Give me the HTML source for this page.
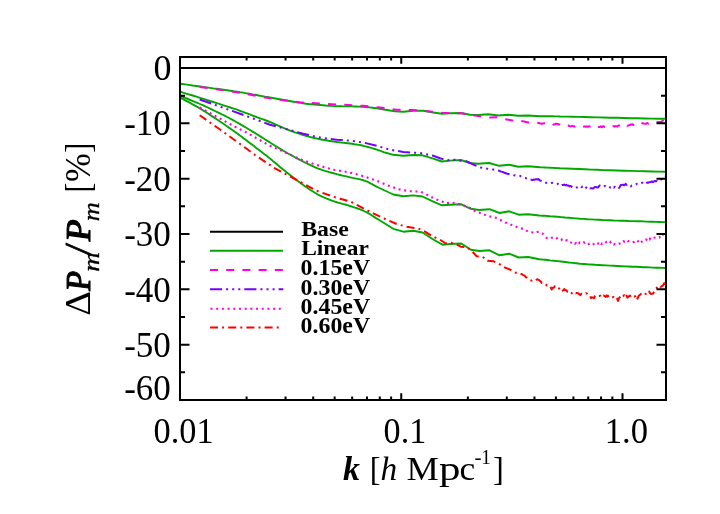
<!DOCTYPE html>
<html><head><meta charset="utf-8"><title>plot</title>
<style>
html,body{margin:0;padding:0;background:#fff;}
body{width:720px;height:514px;overflow:hidden;}
svg{display:block;will-change:transform;}
text{font-family:"Liberation Serif",serif;fill:#000;}
</style></head><body>
<svg width="720" height="514" viewBox="0 0 720 514">
<rect x="0" y="0" width="720" height="514" fill="#fff"/>
<clipPath id="c"><rect x="180.0" y="57.0" width="487.0" height="343.0"/></clipPath>
<g clip-path="url(#c)" fill="none" stroke-linejoin="round">
<line x1="180.0" y1="68" x2="666.0" y2="68" stroke="#000" stroke-width="2"/>
<polyline points="180.0,83.7 182.2,84.0 185.2,84.4 188.8,84.9 192.6,85.5 196.4,86.0 200.0,86.5 203.3,87.0 206.7,87.4 210.0,87.9 213.3,88.4 216.7,88.8 220.0,89.3 223.4,89.8 226.9,90.3 230.3,90.8 233.7,91.3 237.0,91.7 240.0,92.2 242.8,92.6 245.4,93.1 247.8,93.5 250.2,93.9 252.6,94.4 255.0,94.8 257.5,95.2 259.9,95.7 262.4,96.1 264.9,96.6 267.4,97.0 270.0,97.5 272.7,98.0 275.4,98.5 278.2,99.0 281.1,99.5 283.9,100.0 286.7,100.5 289.5,101.0 292.2,101.5 295.0,102.0 297.8,102.5 300.5,102.9 303.3,103.3 306.1,103.7 308.9,104.0 311.6,104.2 314.4,104.5 317.2,104.8 320.0,105.0 322.8,105.2 325.7,105.5 328.6,105.7 331.4,105.9 334.1,106.1 336.7,106.2 339.1,106.3 341.4,106.3 343.6,106.4 345.7,106.4 347.8,106.4 350.0,106.4 352.2,106.4 354.4,106.5 356.6,106.5 358.9,106.6 361.1,106.7 363.3,106.8 365.5,107.0 367.8,107.2 370.0,107.4 372.2,107.7 374.5,108.0 376.7,108.3 390.0,110.5 395.0,111.2 403.3,111.7 413.3,110.8 423.3,110.8 433.3,112.5 441.7,113.8 450.0,113.3 460.8,113.0 470.0,114.7 478.3,115.0 488.3,114.2 498.3,115.5 508.3,114.8 518.3,115.8 528.3,115.5 540.0,116.2 542.5,116.3 545.0,116.3 547.5,116.3 550.0,116.3 552.5,116.3 555.0,116.4 557.5,116.4 560.0,116.5 566.2,116.6 572.5,116.7 578.8,116.9 585.0,117.0 591.2,117.2 597.5,117.4 603.8,117.5 610.0,117.7 617.0,117.8 624.0,118.0 631.0,118.2 638.0,118.3 645.0,118.5 652.0,118.6 659.0,118.7 666.0,118.8" stroke="#00a800" stroke-width="1.9"/>
<polyline points="180.0,91.7 182.2,92.4 185.2,93.3 188.8,94.3 192.6,95.5 196.4,96.7 200.0,97.8 203.3,98.8 206.7,99.9 210.0,101.0 213.3,102.0 216.7,103.1 220.0,104.2 223.4,105.3 226.9,106.4 230.3,107.5 233.7,108.7 237.0,109.7 240.0,110.8 242.8,111.8 245.4,112.8 247.8,113.7 250.2,114.6 252.6,115.6 255.0,116.5 257.5,117.4 259.9,118.3 262.4,119.2 264.9,120.0 267.4,121.0 270.0,122.0 272.7,123.1 275.4,124.3 278.2,125.6 281.1,126.8 283.9,128.1 286.7,129.2 289.5,130.3 292.2,131.3 295.0,132.3 297.8,133.2 300.5,134.1 303.3,135.0 306.1,135.8 308.9,136.6 311.6,137.3 314.4,138.0 317.2,138.6 320.0,139.2 322.8,139.8 325.7,140.3 328.6,140.8 331.4,141.2 334.1,141.6 336.7,142.0 339.1,142.3 341.4,142.6 343.6,142.8 345.7,143.0 347.8,143.2 350.0,143.5 352.2,143.8 354.4,144.2 356.6,144.5 358.9,144.9 361.1,145.3 363.3,145.8 365.6,146.4 367.9,147.0 370.3,147.7 372.6,148.3 374.8,149.0 376.7,149.6 378.4,150.1 379.8,150.7 381.2,151.1 382.4,151.6 383.7,152.1 385.0,152.5 393.3,154.8 403.3,155.8 413.3,155.0 422.5,155.3 433.3,158.6 441.7,161.5 450.0,160.6 460.8,160.0 470.0,163.0 477.5,163.8 489.2,163.0 499.2,165.8 509.2,164.7 518.3,166.7 528.3,166.2 540.0,167.3 542.5,167.4 545.0,167.5 547.5,167.6 550.0,167.7 552.5,167.9 555.0,168.0 557.5,168.1 560.0,168.3 566.2,168.5 572.5,168.7 578.8,169.0 585.0,169.3 591.2,169.6 597.5,169.8 603.8,170.1 610.0,170.3 617.0,170.5 624.0,170.7 631.0,170.9 638.0,171.1 645.0,171.3 652.0,171.5 659.0,171.6 666.0,171.7" stroke="#00a800" stroke-width="1.9"/>
<polyline points="180.0,95.8 182.2,96.7 185.4,98.0 189.1,99.5 193.0,101.1 196.7,102.6 200.0,104.0 202.8,105.2 205.4,106.4 207.8,107.5 210.2,108.7 212.6,109.8 215.0,111.0 217.4,112.2 219.8,113.3 222.2,114.5 224.6,115.7 227.2,117.0 230.0,118.5 233.0,120.2 236.3,122.0 239.7,123.9 243.1,125.9 246.6,128.0 250.0,130.0 253.4,132.1 256.9,134.2 260.3,136.4 263.7,138.5 267.0,140.6 270.0,142.5 272.7,144.2 275.2,145.8 277.5,147.2 279.8,148.6 282.3,150.1 285.0,151.7 288.1,153.5 291.5,155.3 295.0,157.3 298.5,159.1 301.9,160.9 305.0,162.5 307.8,163.9 310.4,165.1 312.8,166.2 315.2,167.3 317.6,168.3 320.0,169.2 322.5,170.1 325.0,170.9 327.5,171.6 330.0,172.3 332.5,173.0 335.0,173.7 337.5,174.4 340.0,175.0 342.5,175.6 345.0,176.1 347.5,176.7 350.0,177.3 352.5,177.9 355.1,178.4 357.6,178.9 360.1,179.4 362.6,180.0 365.0,180.8 367.3,181.7 369.5,182.8 371.6,183.9 373.8,185.1 376.0,186.3 378.3,187.5 393.3,194.5 403.3,196.3 413.3,195.4 422.5,196.5 433.3,201.7 442.0,205.3 450.0,204.7 461.3,204.3 470.8,208.8 479.2,210.0 489.5,209.2 499.5,213.0 509.2,211.3 518.7,214.7 528.3,214.2 539.2,215.5 540.6,215.6 541.9,215.7 543.2,215.8 544.6,215.8 546.0,215.9 547.3,216.0 548.6,216.1 550.0,216.3 553.8,216.5 557.5,216.8 561.2,217.1 565.0,217.5 568.8,217.8 572.5,218.1 576.2,218.4 580.0,218.7 583.8,218.9 587.5,219.2 591.2,219.4 595.0,219.6 598.8,219.8 602.5,220.0 606.2,220.1 610.0,220.3 613.8,220.5 617.5,220.6 621.2,220.7 625.0,220.8 628.8,221.0 632.5,221.1 636.2,221.2 640.0,221.3 643.2,221.4 646.5,221.6 649.8,221.7 653.0,221.8 656.2,221.9 659.5,222.0 662.8,222.1 666.0,222.2" stroke="#00a800" stroke-width="1.9"/>
<polyline points="180.0,97.5 182.2,98.7 185.2,100.3 188.8,102.2 192.6,104.3 196.4,106.4 200.0,108.5 203.4,110.6 206.9,112.8 210.4,115.1 213.9,117.4 217.1,119.5 220.0,121.5 222.6,123.2 224.9,124.8 226.9,126.2 228.9,127.6 230.9,129.0 233.0,130.5 235.2,132.0 237.3,133.6 239.5,135.2 241.7,136.8 243.8,138.4 246.0,140.0 248.2,141.7 250.4,143.4 252.6,145.1 254.8,146.8 256.9,148.4 259.0,150.0 261.0,151.5 262.9,153.0 264.8,154.4 266.6,155.8 268.3,157.2 270.0,158.5 271.5,159.7 272.8,160.9 274.1,161.9 275.4,163.0 276.8,164.2 278.3,165.5 280.0,166.9 281.8,168.4 283.7,170.0 285.7,171.6 287.8,173.3 290.0,175.0 292.3,176.8 294.8,178.7 297.3,180.7 299.9,182.6 302.5,184.5 305.0,186.3 307.5,188.0 310.0,189.7 312.5,191.3 315.0,192.8 317.5,194.3 320.0,195.6 322.5,196.8 325.0,197.9 327.5,199.0 330.0,199.9 332.5,200.8 335.0,201.7 337.5,202.5 340.0,203.2 342.5,203.9 345.0,204.5 347.5,205.2 350.0,206.0 352.5,206.8 355.1,207.7 357.6,208.5 360.1,209.4 362.6,210.4 365.0,211.5 367.3,212.7 369.5,213.9 371.6,215.3 373.8,216.6 376.0,218.1 378.3,219.5 393.3,228.8 403.3,231.7 413.3,230.8 422.5,232.5 433.3,239.5 442.5,244.7 450.0,244.0 461.3,243.5 470.8,249.7 479.5,251.0 489.5,250.3 499.5,255.3 509.2,253.7 518.7,257.5 528.3,257.0 539.2,259.2 540.6,259.4 541.9,259.5 543.2,259.6 544.6,259.7 546.0,259.8 547.3,260.0 548.6,260.2 550.0,260.4 553.8,260.7 557.5,261.1 561.2,261.5 565.0,262.0 568.8,262.5 572.5,262.9 576.2,263.3 580.0,263.7 583.8,264.0 587.5,264.3 591.2,264.5 595.0,264.8 598.8,265.0 602.5,265.2 606.2,265.4 610.0,265.6 613.8,265.8 617.5,266.0 621.2,266.2 625.0,266.4 628.8,266.5 632.5,266.7 636.2,266.8 640.0,267.0 643.2,267.2 646.5,267.3 649.8,267.4 653.0,267.6 656.2,267.7 659.5,267.8 662.8,267.9 666.0,268.0" stroke="#00a800" stroke-width="1.9"/>
<polyline points="199.7,87.0 220.0,89.8 240.0,92.8 270.0,98.3 283.3,100.3 300.0,102.2 315.0,103.3 331.7,104.2 348.3,105.0 363.3,105.8 380.0,107.5 396.7,109.7 413.3,110.0 428.3,111.2 443.3,113.0 450.0,113.0 461.7,113.3 473.3,115.3 480.0,116.3 490.0,117.5 496.7,117.2 505.0,119.2 512.5,120.5 513.5,120.5 514.6,120.6 515.6,120.6 516.6,120.7 517.7,120.7 518.7,120.7 519.8,120.8 520.8,120.8 521.7,121.0 522.7,121.2 523.6,121.4 524.5,121.6 525.5,121.9 526.4,122.1 527.4,122.2 528.3,122.6 529.3,122.6 530.4,122.5 531.5,122.5 532.5,122.4 533.5,122.4 534.6,122.5 535.7,122.4 536.7,122.4 537.7,122.7 538.7,122.9 539.7,123.3 540.7,123.5 541.7,123.9 542.8,123.5 543.9,123.3 545.0,123.0 546.0,123.4 546.9,123.6 547.9,123.9 548.8,124.5 549.8,124.8 550.7,125.1 551.7,125.4 552.7,124.9 553.7,124.5 554.7,124.2 555.7,123.8 556.7,123.8 557.8,124.0 558.9,124.6 560.0,124.6 561.0,125.1 562.0,125.2 562.9,124.8 563.9,125.1 564.9,125.6 565.9,125.5 566.9,126.0 567.9,125.7 568.8,125.6 569.8,126.2 570.8,126.4 571.8,126.1 572.8,126.0 573.8,126.2 574.8,126.7 575.8,126.6 576.8,126.1 577.8,126.2 578.8,126.1 579.8,126.1 580.8,126.8 581.8,126.3 582.8,126.7 583.8,126.6 584.8,126.4 585.8,126.9 586.8,126.4 587.8,126.8 588.8,126.3 589.8,126.6 590.8,126.4 591.8,126.5 592.8,127.2 593.8,127.0 594.8,126.5 595.8,127.1 596.8,126.4 597.8,126.6 598.8,127.1 599.8,126.9 600.8,126.3 601.8,127.2 602.8,126.3 603.7,126.3 604.7,126.9 605.7,126.3 606.7,126.3 607.7,126.0 608.6,126.0 609.6,126.5 610.6,126.1 611.6,126.4 612.6,126.2 613.5,126.2 614.5,126.7 615.5,126.2 616.5,126.2 617.5,126.4 618.4,125.6 619.4,125.5 620.4,126.2 621.4,126.0 622.4,125.3 623.3,125.2 624.3,125.7 625.3,125.8 626.3,124.9 627.2,125.7 628.2,125.5 629.2,125.1 630.2,124.8 631.2,124.4 632.2,124.2 633.2,125.1 634.2,124.2 635.2,124.6 636.2,124.0 637.2,124.6 638.2,124.2 639.2,123.8 640.2,123.5 641.2,124.0 642.2,123.2 643.2,123.3 644.2,123.6 645.3,123.9 646.3,123.5 647.3,123.1 648.3,123.7 649.4,122.9 650.4,122.6 651.4,122.8 652.4,122.9 653.5,122.5 654.5,122.5 655.5,122.7 656.6,122.7 657.8,122.0 658.9,122.0 660.0,122.4 661.0,122.0 662.0,121.2 663.0,120.7 664.0,120.1 665.0,118.9 666.0,118.5" stroke="#ff00dc" stroke-width="2.0" stroke-dasharray="8 8.2"/>
<polyline points="199.7,99.5 240.0,113.7 270.0,124.7 286.7,129.2 303.3,133.8 320.0,137.5 336.7,139.7 350.0,140.6 363.3,142.5 376.7,145.8 390.0,149.7 403.3,152.0 420.0,153.0 433.3,155.8 440.0,158.3 446.7,160.3 455.0,159.7 460.8,160.8 466.7,161.3 475.0,165.3 480.8,167.5 487.5,168.8 493.3,169.5 499.2,170.8 500.2,171.2 501.3,171.6 502.3,171.9 503.4,172.3 504.4,172.7 505.4,173.0 506.5,173.5 507.5,173.8 508.5,174.0 509.4,174.2 510.4,174.5 511.3,174.6 512.3,174.9 513.2,175.0 514.2,175.4 515.2,175.3 516.1,175.6 517.1,175.4 518.1,175.7 519.0,175.7 520.0,175.8 521.0,176.3 521.9,176.4 522.9,176.9 523.9,177.6 524.8,177.9 525.8,178.1 526.8,178.8 527.8,179.1 528.8,178.9 529.7,179.4 530.7,179.5 531.7,179.9 532.6,180.0 533.6,179.6 534.5,179.8 535.5,179.3 536.4,179.2 537.4,179.5 538.3,179.1 539.1,179.8 540.0,180.6 541.0,180.8 542.0,181.1 543.0,181.2 544.0,182.0 545.0,182.6 546.0,182.8 547.0,182.7 548.0,182.6 549.0,182.7 550.0,183.2 551.0,183.3 551.9,182.8 552.9,183.0 553.8,183.3 554.8,183.5 555.7,183.9 556.7,183.7 557.7,183.7 558.8,185.1 559.8,185.2 560.8,185.8 561.9,185.1 563.1,185.0 564.2,184.6 565.2,185.3 566.2,184.8 567.3,185.6 568.3,185.4 569.3,186.4 570.3,185.9 571.3,186.5 572.3,187.0 573.3,187.7 574.3,187.0 575.3,187.6 576.3,187.4 577.3,187.6 578.3,188.0 579.3,188.4 580.3,187.5 581.2,188.0 582.2,186.6 583.2,187.6 584.2,186.5 585.2,186.4 586.1,187.5 587.1,188.0 588.1,186.8 589.0,187.4 590.0,188.4 591.1,188.1 592.2,188.4 593.3,188.4 594.5,187.2 595.8,186.9 596.8,187.5 597.8,187.4 598.8,186.5 599.7,185.5 600.7,186.0 601.7,186.7 602.7,186.9 603.8,186.6 604.8,185.9 605.9,186.5 606.9,186.5 607.9,186.8 609.0,186.2 610.0,187.5 611.0,187.5 611.9,186.3 612.9,186.6 613.9,187.7 614.8,186.7 615.8,188.0 617.0,187.8 618.3,188.7 619.5,187.3 620.8,185.0 621.8,184.9 622.8,184.6 623.8,185.2 624.7,185.0 625.7,183.8 626.7,184.9 627.7,184.4 628.8,184.4 629.8,185.1 630.8,186.4 631.8,185.3 632.9,185.1 634.0,185.3 635.0,185.0 636.0,184.5 637.0,183.7 638.0,183.8 639.0,184.2 640.0,183.8 641.0,183.3 642.0,182.8 643.0,182.8 644.0,183.3 645.0,182.9 646.0,181.7 646.9,182.7 647.9,182.8 648.9,182.3 649.8,182.3 650.8,182.0 651.8,181.5 652.9,182.0 654.0,181.4 655.0,181.0 656.0,181.2 657.1,180.9 658.2,181.8 659.2,181.1 660.2,180.1 661.2,179.5 662.3,177.9 663.3,177.9 664.2,177.7 665.1,176.6 666.0,176.3" stroke="#7800ff" stroke-width="2.0" stroke-dasharray="12.1 4 2 4.1 2 4.1 2 4"/>
<polyline points="199.7,107.5 235.0,126.7 245.0,131.7 270.0,145.8 280.0,150.0 300.0,159.2 316.7,165.0 333.3,169.7 344.2,171.5 355.0,173.7 365.0,176.7 376.7,180.8 387.5,185.3 398.3,189.2 409.2,191.2 420.8,191.7 425.8,194.2 435.8,199.2 441.7,201.3 445.8,203.3 451.7,202.5 456.7,203.5 462.0,204.8 467.5,206.8 472.5,209.3 476.7,212.5 482.5,213.3 487.5,216.3 492.5,216.7 497.5,218.3 498.5,218.9 499.5,219.5 500.5,220.0 501.5,220.6 502.5,221.2 503.4,221.6 504.3,222.0 505.2,222.5 506.2,222.8 507.1,223.3 508.0,223.6 509.1,224.0 510.1,224.3 511.2,224.7 512.2,225.0 513.3,225.2 514.3,225.7 515.3,226.1 516.3,226.8 517.3,227.2 518.3,227.6 519.3,227.9 520.3,228.1 521.3,228.4 522.3,228.6 523.3,228.6 524.3,229.5 525.3,229.9 526.3,230.6 527.3,231.1 528.3,231.7 529.3,231.8 530.3,232.1 531.3,232.2 532.3,232.3 533.3,233.0 534.3,232.8 535.3,232.7 536.3,232.3 537.3,232.0 538.3,231.9 539.3,231.9 540.3,233.0 541.3,233.3 542.3,233.6 543.3,234.2 544.4,235.7 545.6,236.6 546.7,238.0 547.7,238.2 548.8,238.0 549.8,237.8 550.8,238.3 551.8,237.7 552.9,237.4 554.0,237.0 555.0,236.9 556.0,237.2 557.1,238.6 558.2,239.6 559.2,239.6 560.2,239.9 561.2,240.2 562.3,238.9 563.3,239.0 564.3,240.2 565.3,240.5 566.3,240.5 567.3,240.0 568.3,240.7 569.3,241.8 570.3,242.3 571.3,242.6 572.3,242.1 573.3,243.6 574.2,243.0 575.1,243.7 576.1,242.9 577.0,244.5 577.9,243.6 578.8,243.6 579.8,242.4 580.7,242.9 581.6,242.6 582.5,242.4 583.5,242.0 584.6,242.8 585.7,242.1 586.7,242.1 587.7,242.4 588.7,244.0 589.7,243.4 590.7,244.2 591.7,244.4 592.8,244.8 593.9,243.9 595.0,243.1 596.0,242.3 597.1,243.5 598.2,243.6 599.2,243.3 600.2,243.1 601.1,245.3 602.0,243.4 603.0,243.8 604.1,243.2 605.2,243.4 606.4,241.8 607.5,242.1 608.6,242.1 609.8,243.3 610.9,241.7 612.0,242.6 612.9,243.2 613.9,244.5 614.8,243.8 615.8,243.9 616.7,244.6 618.0,243.9 619.2,243.5 620.3,243.7 621.4,243.7 622.5,242.5 623.5,241.2 624.6,241.8 625.7,241.9 626.7,240.3 627.7,241.3 628.7,241.1 629.7,241.1 630.6,241.6 631.5,241.7 632.4,242.3 633.3,242.0 634.3,242.2 635.3,241.0 636.3,241.9 637.2,242.0 638.1,241.2 639.1,243.4 640.0,242.6 640.9,242.5 641.7,241.8 642.8,240.9 643.9,240.4 645.0,240.4 646.1,239.4 647.2,240.6 648.3,238.6 649.5,239.4 650.8,237.2 651.9,237.7 653.1,238.2 654.2,237.8 655.2,237.5 656.2,237.4 657.3,237.1 658.3,237.5 659.4,237.6 660.6,235.4 661.7,236.4 662.8,234.5 663.9,235.1 664.9,233.1 666.0,232.5" stroke="#ff00dc" stroke-width="2.1" stroke-dasharray="2 3.69"/>
<polyline points="199.7,115.3 220.0,129.5 230.0,136.7 246.7,148.8 255.0,155.0 275.0,168.3 296.7,180.0 316.7,190.8 333.3,196.7 340.0,198.7 351.0,201.8 362.0,207.6 373.3,213.3 385.0,219.0 396.7,224.0 406.7,226.8 418.3,228.5 425.0,231.7 433.3,236.7 440.0,239.7 445.8,243.5 451.0,242.7 456.7,244.6 460.8,246.7 466.7,247.0 470.8,250.0 476.7,256.3 482.5,256.7 487.5,260.8 493.3,261.2 498.3,263.5 499.3,264.1 500.3,264.7 501.2,265.4 502.2,266.0 503.2,266.6 504.2,267.2 505.2,267.6 506.1,268.0 507.1,268.4 508.1,268.8 509.0,269.3 510.0,269.5 511.0,270.1 512.0,270.9 513.0,271.3 514.0,271.8 515.0,272.6 516.0,272.8 516.9,272.8 517.9,273.3 518.8,273.6 519.8,273.5 520.7,274.0 521.7,274.0 522.8,274.8 523.9,275.3 525.0,276.1 526.0,277.4 527.0,277.7 528.0,278.9 529.0,279.2 530.0,280.1 531.0,280.5 532.0,280.5 533.0,280.1 534.0,280.7 535.0,280.9 536.1,280.0 537.2,279.3 538.3,279.6 539.4,280.5 540.6,281.4 541.7,282.9 542.7,283.1 543.8,284.2 544.8,284.3 545.8,284.2 546.9,285.5 548.1,284.9 549.2,285.5 550.5,286.9 551.7,289.5 552.8,287.8 553.9,287.6 555.0,286.1 556.1,286.8 557.2,287.2 558.3,287.1 559.5,289.3 560.8,291.7 561.9,290.9 563.1,290.5 564.2,289.0 565.3,290.2 566.4,290.3 567.5,291.9 568.6,292.6 569.7,291.6 570.8,292.3 571.8,293.3 572.8,292.9 573.8,291.8 574.8,293.0 575.8,293.4 576.9,292.9 578.1,293.3 579.2,294.3 580.3,295.1 581.4,293.7 582.5,293.8 583.6,293.2 584.7,293.9 585.8,293.2 586.8,293.5 587.9,294.5 589.0,294.5 590.0,295.9 591.0,298.0 592.0,297.6 593.0,297.5 593.9,298.3 594.9,296.2 595.8,295.2 597.0,295.2 598.3,296.1 599.4,296.0 600.6,295.8 601.7,297.3 602.7,295.6 603.7,295.4 604.7,296.3 605.7,297.0 606.7,295.3 607.7,296.6 608.6,295.8 609.6,296.4 610.6,296.6 611.5,297.7 612.5,297.4 613.6,296.9 614.7,297.9 615.8,296.9 616.9,298.1 618.0,300.9 619.0,298.1 620.0,297.0 621.0,295.7 622.1,297.1 623.2,296.2 624.2,295.1 625.0,296.1 625.8,294.1 626.6,295.8 627.5,297.7 628.8,296.3 630.0,295.5 631.0,296.9 632.1,295.6 633.2,296.0 634.2,296.6 635.5,296.0 636.7,294.7 637.5,298.7 638.6,296.1 639.7,295.1 640.8,294.0 642.0,294.0 643.3,295.1 644.5,293.6 645.8,293.9 646.9,292.0 648.1,293.0 649.2,291.5 650.1,293.2 651.1,293.9 652.0,293.8 653.1,293.6 654.2,291.2 655.5,289.9 656.7,287.6 658.0,289.2 659.2,289.4 660.5,287.4 661.7,286.1 663.0,285.5 664.2,283.1 665.1,284.2 666.0,283.3" stroke="#ff0000" stroke-width="2.0" stroke-dasharray="8 4.1 2 4.1"/>
</g>
<g stroke="#000" stroke-width="2" fill="none" stroke-linecap="butt">
<rect x="180.0" y="57.0" width="486.0" height="343.0"/>
<path d="M246.60 57.0v3.5M246.60 400.0v-3.5M285.56 57.0v3.5M285.56 400.0v-3.5M313.21 57.0v3.5M313.21 400.0v-3.5M334.65 57.0v3.5M334.65 400.0v-3.5M352.17 57.0v3.5M352.17 400.0v-3.5M366.98 57.0v3.5M366.98 400.0v-3.5M379.81 57.0v3.5M379.81 400.0v-3.5M391.13 57.0v3.5M391.13 400.0v-3.5M401.25 57.0v6.75M401.25 400.0v-6.75M467.85 57.0v3.5M467.85 400.0v-3.5M506.81 57.0v3.5M506.81 400.0v-3.5M534.46 57.0v3.5M534.46 400.0v-3.5M555.90 57.0v3.5M555.90 400.0v-3.5M573.42 57.0v3.5M573.42 400.0v-3.5M588.23 57.0v3.5M588.23 400.0v-3.5M601.06 57.0v3.5M601.06 400.0v-3.5M612.38 57.0v3.5M612.38 400.0v-3.5M622.50 57.0v6.75M622.50 400.0v-6.75M180.0 68.00h9.5M666.0 68.00h-9.5M180.0 95.67h5.0M666.0 95.67h-5.0M180.0 123.33h9.5M666.0 123.33h-9.5M180.0 151.00h5.0M666.0 151.00h-5.0M180.0 178.67h9.5M666.0 178.67h-9.5M180.0 206.33h5.0M666.0 206.33h-5.0M180.0 234.00h9.5M666.0 234.00h-9.5M180.0 261.67h5.0M666.0 261.67h-5.0M180.0 289.33h9.5M666.0 289.33h-9.5M180.0 317.00h5.0M666.0 317.00h-5.0M180.0 344.66h9.5M666.0 344.66h-9.5M180.0 372.33h5.0M666.0 372.33h-5.0"/>
</g>
<g fill="none" stroke-width="2.0">
<line x1="210" y1="231.75" x2="283" y2="231.75" stroke="#000"/>
<line x1="210" y1="250.75" x2="283" y2="250.75" stroke="#00a800"/>
<line x1="210" y1="270.1" x2="283.3" y2="270.1" stroke="#ff00dc" stroke-dasharray="8 8.2"/>
<line x1="210" y1="289.3" x2="283.3" y2="289.3" stroke="#7800ff" stroke-dasharray="12.1 4 2 4.1 2 4.1 2 4"/>
<line x1="210.5" y1="308.75" x2="281.1" y2="308.75" stroke="#ff00dc" stroke-width="2.1" stroke-dasharray="2 3.69"/>
<line x1="210" y1="327.6" x2="280" y2="327.6" stroke="#ff0000" stroke-dasharray="8 4.1 2 4.1"/>
</g>
<g font-weight="bold" font-size="22">
<text x="301.2" y="235.7" textLength="47.6" lengthAdjust="spacingAndGlyphs">Base</text>
<text x="301.2" y="255.4" textLength="67.6" lengthAdjust="spacingAndGlyphs">Linear</text>
<text x="300.6" y="275.1" font-size="22.8" textLength="69.60000000000001" lengthAdjust="spacingAndGlyphs">0.15eV</text>
<text x="300.6" y="294.8" font-size="22.8" textLength="69.60000000000001" lengthAdjust="spacingAndGlyphs">0.30eV</text>
<text x="300.6" y="313.6" font-size="22.8" textLength="69.60000000000001" lengthAdjust="spacingAndGlyphs">0.45eV</text>
<text x="300.6" y="332.8" font-size="22.8" textLength="69.60000000000001" lengthAdjust="spacingAndGlyphs">0.60eV</text>
</g>
<g font-size="35" text-anchor="end">
<text x="171.4" y="80.2" textLength="18.0" lengthAdjust="spacingAndGlyphs">0</text>
<text x="170.9" y="135.4" textLength="46.7" lengthAdjust="spacingAndGlyphs">-10</text>
<text x="170.9" y="190.8" textLength="46.7" lengthAdjust="spacingAndGlyphs">-20</text>
<text x="170.9" y="246.1" textLength="46.7" lengthAdjust="spacingAndGlyphs">-30</text>
<text x="170.9" y="301.6" textLength="46.7" lengthAdjust="spacingAndGlyphs">-40</text>
<text x="170.9" y="357" textLength="46.7" lengthAdjust="spacingAndGlyphs">-50</text>
<text x="170.9" y="400.2" textLength="46.7" lengthAdjust="spacingAndGlyphs">-60</text>
</g>
<g font-size="35">
<text x="153.6" y="443.3" textLength="60" lengthAdjust="spacingAndGlyphs">0.01</text>
<text x="383.6" y="443.3" textLength="42.6" lengthAdjust="spacingAndGlyphs">0.1</text>
<text x="604.8" y="443.3" textLength="43.2" lengthAdjust="spacingAndGlyphs">1.0</text>
</g>
<g>
<text transform="translate(343.10,479.70) scale(0.9941,1)" font-size="34" font-style="italic" font-weight="bold">k</text>
<text transform="translate(369.77,479.70) scale(0.9537,1)" font-size="34">[</text>
<text transform="translate(380.46,479.70) scale(0.9815,1)" font-size="34" font-style="italic">h</text>
<text transform="translate(406.53,479.70) scale(1.0678,1)" font-size="34">M</text>
<text transform="translate(439.03,479.70) scale(1.2657,1)" font-size="34">p</text>
<text transform="translate(459.50,479.70) scale(1.0391,1)" font-size="34">c</text>
<text transform="translate(474.44,464.40) scale(1.0284,1)" font-size="20.5">-</text>
<text transform="translate(481.30,464.40) scale(0.9366,1)" font-size="20.5">1</text>
<text transform="translate(492.89,479.70) scale(0.9537,1)" font-size="34">]</text>
</g>
<g transform="translate(89.7,314.6) rotate(-90)">
<text transform="translate(-1.20,0.00) scale(1.0971,1)" font-size="35">Δ</text>
<text transform="translate(22.34,0.00) scale(1.0204,1) skewX(-7)" font-size="35" stroke="#000" stroke-width="1.1" stroke-linejoin="round">P</text>
<text transform="translate(42.95,8.80) scale(1.1302,1)" font-size="24" font-style="italic" stroke="#000" stroke-width="0.35" stroke-linejoin="round">m</text>
<text transform="translate(61.15,0.00) scale(0.8466,1)" font-size="35" font-style="italic" font-weight="bold" stroke="#000" stroke-width="0.9" stroke-linejoin="round">/</text>
<text transform="translate(71.89,0.00) scale(1.1164,1) skewX(-7)" font-size="35" stroke="#000" stroke-width="1.1" stroke-linejoin="round">P</text>
<text transform="translate(93.38,8.80) scale(1.0921,1)" font-size="24" font-style="italic" stroke="#000" stroke-width="0.35" stroke-linejoin="round">m</text>
<text transform="translate(122.13,0.00) scale(0.8533,1)" font-size="35">[</text>
<text transform="translate(132.72,0.00) scale(0.9874,1)" font-size="35">%</text>
<text transform="translate(161.97,0.00) scale(0.8533,1)" font-size="35">]</text>
</g>
</svg>
</body></html>
